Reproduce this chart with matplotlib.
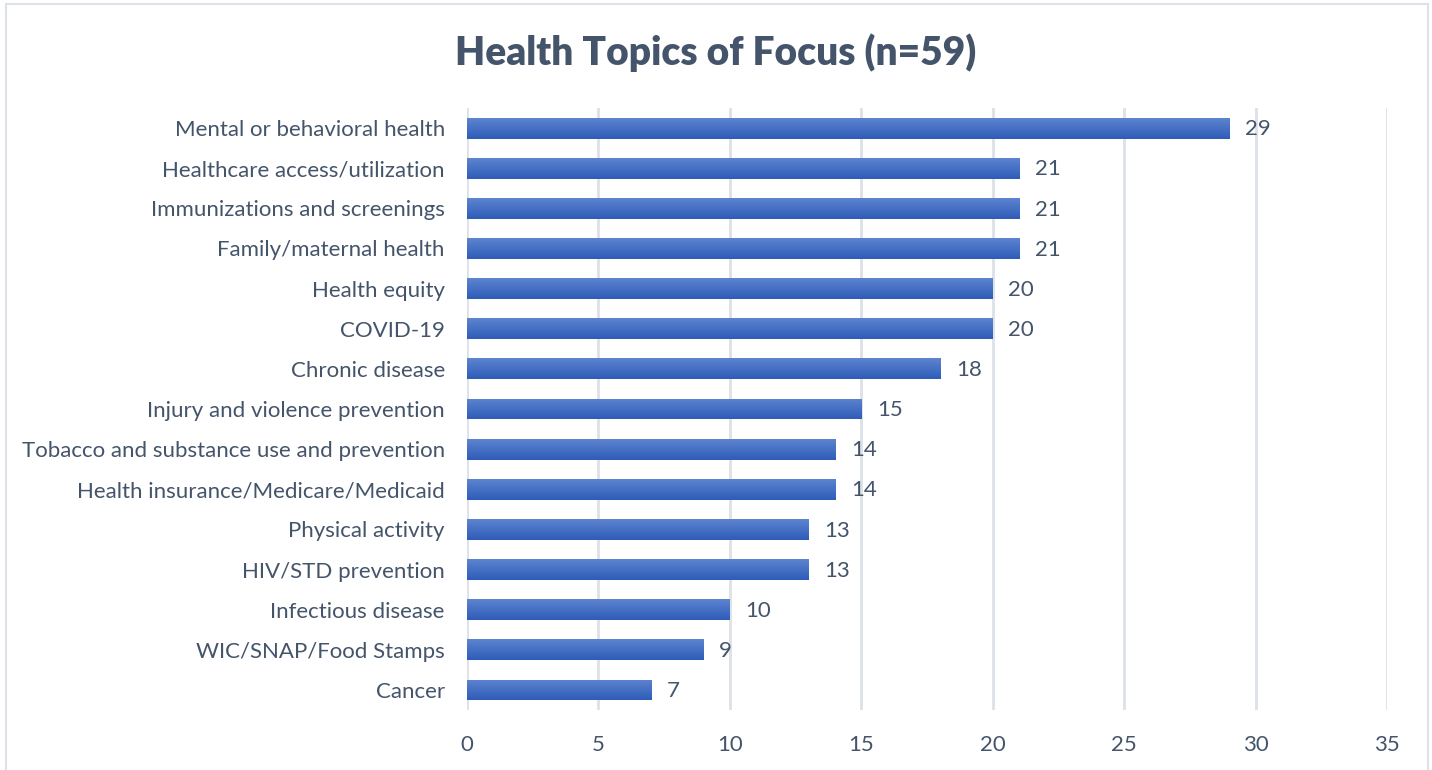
import numpy as np
import matplotlib.pyplot as plt
from matplotlib.patches import Rectangle
from matplotlib.colors import LinearSegmentedColormap

# data, top to bottom as shown in the chart
topics = ["Mental or behavioral health", "Healthcare access/utilization",
          "Immunizations and screenings", "Family/maternal health",
          "Health equity", "COVID-19", "Chronic disease",
          "Injury and violence prevention",
          "Tobacco and substance use and prevention",
          "Health insurance/Medicare/Medicaid", "Physical activity",
          "HIV/STD prevention", "Infectious disease",
          "WIC/SNAP/Food Stamps", "Cancer"]
counts = [29, 21, 21, 21, 20, 20, 18, 15, 14, 14, 13, 13, 10, 9, 7]
xticks = [0, 5, 10, 15, 20, 25, 30, 35]

text_col = "#44546a"
grid_col = "#dde1e8"

plt.rcParams['font.family'] = ['Lato', 'DejaVu Sans']

fig = plt.figure(figsize=(14.32, 7.70), dpi=100)
# light frame around the chart
fig.patches.append(Rectangle((0.004, -0.01), 0.993, 1.005, transform=fig.transFigure,
                             fill=False, edgecolor=grid_col, linewidth=1.5))

ax = fig.add_axes([0.3261, 0.0779, 0.6425, 0.7818])
ypos = np.arange(len(topics))[::-1]
bars = ax.barh(ypos, counts, height=0.52, color="#4472c4", zorder=3)

# vertical gradient on every bar (light on top, darker at bottom)
grad = np.linspace(0, 1, 100).reshape(-1, 1)
cmap = LinearSegmentedColormap.from_list("g", ["#2e5cb8", "#5d84d0"])
for b in bars:
    x0, y0 = b.get_x(), b.get_y()
    w, h = b.get_width(), b.get_height()
    im = ax.imshow(grad, cmap=cmap, aspect="auto", origin="lower",
                   extent=[x0, x0 + w, y0, y0 + h], zorder=4)
    im.set_clip_path(b)

for y, v in zip(ypos, counts):
    ax.text(v + 0.6, y - 0.03, str(v), va="center", ha="left", fontsize=16, color=text_col)

ax.set_xlim(0, 35)
ax.set_ylim(-0.5, len(topics) - 0.5)
ax.set_xticks(xticks)
ax.set_yticks(ypos)
ax.set_yticklabels(topics)
ax.tick_params(axis="both", length=0, labelsize=16, colors=text_col)
ax.tick_params(axis="x", pad=18)
ax.tick_params(axis="y", pad=16)
ax.grid(axis="x", color=grid_col, linewidth=2, zorder=0)
for s in ax.spines.values():
    s.set_visible(False)

fig.text(0.5, 0.932, "Health Topics of Focus (n=59)", ha="center", va="center",
         fontsize=28, fontweight="heavy", color=text_col)

fig.savefig("out.png", dpi=100)
